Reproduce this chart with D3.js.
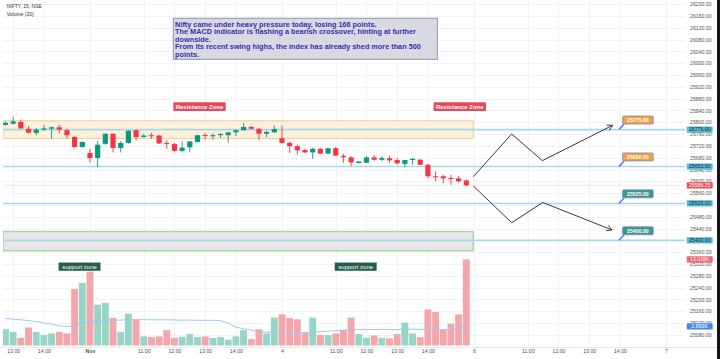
<!DOCTYPE html>
<html><head><meta charset="utf-8">
<script src="https://cdn.jsdelivr.net/npm/d3@7/dist/d3.min.js"></script>
<style>html,body{margin:0;padding:0;background:#fff;overflow:hidden}svg{display:block;font-family:"Liberation Sans",Arial,sans-serif}</style>
</head><body><svg id="c" width="720" height="359"></svg>
<script>
// ---------- DATA ----------
const opens  = [25791,25795,25801,25778,25764,25775,25778,25783,25773,25750,25716,25696,25679,25727,25761,25713,25730,25773,25750,25756,25755,25730,25726,25703,25715,25733,25757,25754,25756,25756,25766,25773,25784,25778,25761,25766,25746,25730,25719,25706,25698,25710,25694,25712,25686,25681,25662,25663,25681,25673,25678,25672,25659,25672,25673,25656,25617,25617,25611,25610,25603];
const highs  = [25803,25819,25809,25787,25780,25791,25785,25791,25778,25753,25735,25710,25736,25762,25762,25736,25773,25775,25761,25764,25757,25739,25730,25735,25735,25757,25764,25762,25763,25766,25775,25798,25787,25781,25772,25789,25789,25735,25724,25711,25714,25713,25712,25716,25694,25685,25669,25685,25689,25685,25687,25679,25673,25679,25676,25659,25634,25622,25622,25619,25605];
const lows   = [25789,25792,25778,25762,25755,25771,25744,25762,25745,25713,25714,25662,25648,25724,25698,25698,25727,25739,25749,25744,25727,25710,25700,25698,25698,25732,25741,25741,25747,25730,25753,25773,25776,25739,25749,25764,25727,25696,25690,25696,25676,25692,25692,25685,25662,25651,25660,25662,25670,25668,25662,25656,25648,25656,25655,25611,25600,25594,25588,25596,25583];
const closes = [25798,25803,25779,25765,25775,25779,25783,25775,25756,25716,25733,25679,25724,25761,25713,25730,25771,25750,25755,25754,25728,25728,25703,25714,25735,25756,25754,25756,25760,25766,25773,25784,25778,25761,25767,25777,25730,25719,25705,25698,25710,25694,25712,25687,25682,25664,25667,25681,25673,25679,25671,25661,25672,25676,25656,25617,25614,25610,25608,25600,25586.25];
const volumes = [2463,2060,1164,2716,2060,1567,1821,2060,1821,8537,9433,11164,6149,6448,4149,2060,4806,3955,1373,1269,1373,2313,1164,1313,1716,1269,1373,1119,1269,866,1373,2313,970,2463,1821,4209,4701,4149,3955,1910,4209,1612,1567,1821,2358,4209,1716,1164,1522,1164,1075,1716,3463,1821,1269,5448,5045,2358,3313,4701,13018];
const volMA = [4060,3985,3881,3761,3612,3433,3209,2985,2866,2985,3358,3657,3731,3761,3806,3836,3881,3910,3910,3881,3881,3881,3851,3836,3836,3806,3806,3806,3761,3358,2761,2537,2313,2090,2015,1970,1970,1970,1970,1970,2015,2090,2164,2239,2313,2388,2418,2418,2418,2418,2418,2418,2463,2463,2433,2433,2418,2388,2463,2612,2893];
const lastVolMA = 2893;
const priceTicks = d3.range(25080, 26201, 40);
const xTickIdx    = [1,5,11,18,22,26,30,36,43,47,51,55,61,68,72,76,80,86];
const xTickLabels = ["13:00","14:00","Nov","11:00","12:00","13:00","14:00","4","11:00","12:00","13:00","14:00","6","11:00","12:00","13:00","14:00","7"];
const levels = [25775,25650,25525,25400];
const calloutKinds = ["up","up","down","down"];
const calloutIdx = 79.87;
const resistanceZone = [25745,25805];
const supportZone = [25365,25430];
const zoneEndIdx = 60.9;
const lastPrice = 25586.25;
const upperPath = [[60.91,25615.7],[65.91,25760.3],[69.9,25669.9],[79.06,25789.7]];
const lowerPath = [[60.91,25584.2],[65.91,25460],[69.95,25528.4],[78.97,25435.3]];
const resistanceLabels = [[25.26,25852.7],[59.15,25852.7]];
const supportLabels = [[9.64,25311],[45.6,25311]];
const noteAnchor = [21.85,26152];
const noteLines = [
 "Nifty came under heavy pressure today, losing 166 points.",
 "The MACD indicator is flashing a bearish crossover, hinting at further",
 "downside.",
 "From its recent swing highs, the index has already shed more than 500",
 "points."
];
const titleText = "NIFTY, 15, NSE";
const volTitle = "Volume (20)";

// ---------- SCALES ----------
const W = 720, H = 359;
const plotL = 3, plotR = 685, paneBottom = 347;
const x = d3.scaleLinear().domain([0,86]).range([5.5,666]);
const y = d3.scaleLinear().domain([25080,26200]).range([334.9,4.1]);
const yv = d3.scaleLinear().domain([0,13018]).range([345.5,259.3]);
const UP = "#089981", DN = "#f23645";

const svg = d3.select("#c");
svg.append("rect").attr("width",W).attr("height",H).attr("fill","#fff");
const defs = svg.append("defs");
defs.append("clipPath").attr("id","plot").append("rect").attr("x",plotL).attr("y",0).attr("width",plotR-plotL).attr("height",paneBottom);
const g = svg.append("g").attr("clip-path","url(#plot)");

// grid
g.selectAll(".hg").data(priceTicks).join("line")
 .attr("x1",plotL).attr("x2",plotR).attr("y1",d=>Math.round(y(d))+0.5).attr("y2",d=>Math.round(y(d))+0.5)
 .attr("stroke","#f2f3f6").attr("stroke-width",1);
g.selectAll(".vg").data(xTickIdx).join("line")
 .attr("x1",d=>Math.round(x(d))+0.5).attr("x2",d=>Math.round(x(d))+0.5).attr("y1",0).attr("y2",paneBottom)
 .attr("stroke","#f2f3f6").attr("stroke-width",1);

// zones
g.append("rect").attr("x",plotL).attr("width",x(zoneEndIdx)-plotL)
 .attr("y",y(resistanceZone[1])).attr("height",y(resistanceZone[0])-y(resistanceZone[1]))
 .attr("fill","#fdf1dc").attr("stroke","#f6d197").attr("stroke-width",1.2);
g.append("rect").attr("x",plotL).attr("width",x(zoneEndIdx)-plotL)
 .attr("y",y(supportZone[1])).attr("height",y(supportZone[0])-y(supportZone[1]))
 .attr("fill","#e7e7eb").attr("stroke","#a9d6a4").attr("stroke-width",1.4);

// level lines
g.selectAll(".lvl").data(levels).join("line")
 .attr("x1",plotL).attr("x2",plotR).attr("y1",d=>y(d)).attr("y2",d=>y(d))
 .attr("stroke","#a6d8e7").attr("stroke-width",1.6);

// last price line
g.append("line").attr("x1",plotL).attr("x2",plotR).attr("y1",y(lastPrice)).attr("y2",y(lastPrice))
 .attr("stroke","#f7c6c9").attr("stroke-width",0.8).attr("stroke-dasharray","1,1");

// volume
const idx = d3.range(opens.length);
g.selectAll(".vol").data(idx).join("rect")
 .attr("x",i=>x(i)-3.45).attr("width",6.9)
 .attr("y",i=>yv(volumes[i])).attr("height",i=>yv(0)-yv(volumes[i]))
 .attr("fill",i=>closes[i]>=opens[i]?"#98d4c8":"#f3a7ab");
g.append("path").datum(idx)
 .attr("d",d3.line().x(i=>x(i)).y(i=>yv(volMA[i])))
 .attr("fill","none").attr("stroke","#9cc7f5").attr("stroke-width",1);

// candles
g.selectAll(".wick").data(idx).join("line")
 .attr("x1",i=>x(i)).attr("x2",i=>x(i)).attr("y1",i=>y(highs[i])).attr("y2",i=>y(lows[i]))
 .attr("stroke",i=>closes[i]>=opens[i]?UP:DN).attr("stroke-width",0.9);
g.selectAll(".body").data(idx).join("rect")
 .attr("x",i=>x(i)-2.6).attr("width",5.2)
 .attr("y",i=>y(Math.max(opens[i],closes[i])))
 .attr("height",i=>Math.max(1,Math.abs(y(opens[i])-y(closes[i]))))
 .attr("fill",i=>closes[i]>=opens[i]?UP:DN);

// zigzag arrows
const zz = d3.line().x(d=>x(d[0])).y(d=>y(d[1]));
function arrow(path){
  g.append("path").attr("d",zz(path)).attr("fill","none").attr("stroke","#3a3a3a").attr("stroke-width",1);
  const a = path[path.length-2], b = path[path.length-1];
  const ax=x(a[0]), ay=y(a[1]), bx=x(b[0]), by=y(b[1]);
  const ang = Math.atan2(by-ay,bx-ax), L=6;
  const p1=[bx-L*Math.cos(ang-0.5), by-L*Math.sin(ang-0.5)];
  const p2=[bx-L*Math.cos(ang+0.5), by-L*Math.sin(ang+0.5)];
  g.append("path").attr("d",`M${p1[0]},${p1[1]}L${bx},${by}L${p2[0]},${p2[1]}`)
   .attr("fill","none").attr("stroke","#3a3a3a").attr("stroke-width",1);
}
arrow(upperPath); arrow(lowerPath);

// callouts
levels.forEach((lv,k)=>{
  const ly = y(lv), ax = x(calloutIdx);
  const bx = ax+3.7, bw = 30.6, bh = 8, by = ly-13.6;
  g.append("line").attr("x1",bx+1.5).attr("y1",by+bh).attr("x2",ax).attr("y2",ly)
   .attr("stroke","#4a6cf7").attr("stroke-width",1.4);
  g.append("rect").attr("x",bx).attr("y",by).attr("width",bw).attr("height",bh).attr("rx",1)
   .attr("fill",calloutKinds[k]==="up"?"#f5a033":"#3e9a7c").attr("stroke","#6b87f5").attr("stroke-width",0.8);
  g.append("text").attr("x",bx+bw/2).attr("y",by+bh/2+1.8).attr("text-anchor","middle")
   .attr("font-size",5.2).attr("font-weight","bold").attr("fill","#fff").text(lv.toFixed(2));
});

// zone labels
resistanceLabels.forEach(([i,p])=>{
  const cx=x(i), cy=y(p), w=52.4, h=8.7;
  g.append("rect").attr("x",cx-w/2).attr("y",cy-h/2).attr("width",w).attr("height",h).attr("rx",1).attr("fill","#e2495a");
  g.append("text").attr("x",cx).attr("y",cy+2.1).attr("text-anchor","middle").attr("font-size",6).attr("font-weight","bold")
   .attr("fill","#fff").text("Resistance Zone");
});
supportLabels.forEach(([i,p])=>{
  const cx=x(i), cy=y(p), w=42.4, h=8.7;
  g.append("rect").attr("x",cx-w/2).attr("y",cy-h/2).attr("width",w).attr("height",h).attr("rx",1).attr("fill","#285c4c")
   .attr("stroke","#e0e0e0").attr("stroke-width",0.6);
  g.append("text").attr("x",cx).attr("y",cy+2.1).attr("text-anchor","middle").attr("font-size",6)
   .attr("fill","#fff").text("support zone");
});

// note box
{
  const bx = x(noteAnchor[0]), by = y(noteAnchor[1]);
  g.append("rect").attr("x",bx).attr("y",by).attr("width",264).attr("height",41)
   .attr("fill","#d9d9e2").attr("stroke","#9194a3").attr("stroke-width",1);
  g.selectAll(".note").data(noteLines).join("text")
   .attr("x",bx+1.8).attr("y",(d,i)=>by+8.3+i*7.5).attr("font-size",7.3).attr("font-weight","bold")
   .attr("fill","#3b2db3").text(d=>d);
}

// legend
svg.append("text").attr("x",6.7).attr("y",8.2).attr("font-size",5).attr("fill","#333").text(titleText);
svg.append("text").attr("x",6.7).attr("y",15.8).attr("font-size",5).attr("fill","#333").text(volTitle);

// axes
const tagYs = levels.map(lv=>y(lv)).concat([y(lastPrice), yv(volumes[volumes.length-1]), yv(lastVolMA)]);
const visibleTicks = priceTicks.filter(p=>tagYs.every(t=>Math.abs(y(p)-t)>2.5));
svg.append("line").attr("x1",0).attr("x2",717).attr("y1",paneBottom+0.5).attr("y2",paneBottom+0.5).attr("stroke","#e6e8ee");
const yAxis = d3.axisRight(y).tickValues(visibleTicks).tickFormat(d=>d.toFixed(2)).tickSize(0).tickPadding(0);
const ya = svg.append("g").attr("transform","translate(690,0)").call(yAxis);
ya.select(".domain").remove();
ya.selectAll("text").attr("font-size",5.2).attr("fill","#555").attr("font-family","Liberation Sans, Arial, sans-serif");

const xAxis = d3.axisBottom(x).tickValues(xTickIdx).tickFormat((d,i)=>xTickLabels[i]).tickSize(0).tickPadding(2.5);
const xa = svg.append("g").attr("transform",`translate(0,${paneBottom})`).call(xAxis);
xa.select(".domain").remove();
xa.selectAll("text").attr("font-size",5.2).attr("fill","#555").attr("font-family","Liberation Sans, Arial, sans-serif")
  .attr("font-weight",(d,i)=>xTickLabels[i]==="Nov"?"bold":"normal");

// axis tags
function tag(cy, txt, fill, color){
  svg.append("rect").attr("x",686.7).attr("y",cy-3.1).attr("width",26).attr("height",6.2).attr("rx",0.8).attr("fill",fill);
  svg.append("text").attr("x",699.7).attr("y",cy+1.8).attr("text-anchor","middle").attr("font-size",5.2).attr("fill",color).text(txt);
}
levels.forEach(lv=>tag(y(lv), lv.toFixed(2), "#55bad5", "#1c2b33"));
tag(y(lastPrice), lastPrice.toFixed(2), "#ef4c58", "#fff");
tag(yv(volumes[volumes.length-1]), (volumes[volumes.length-1]/1000).toFixed(3)+"K", "#ee6470", "#fff");
tag(yv(lastVolMA), (lastVolMA/1000).toFixed(3)+"K", "#4a86e8", "#fff");

// right edge strip
svg.append("rect").attr("x",717).attr("y",0).attr("width",3).attr("height",H).attr("fill","#151515");
</script></body></html>
